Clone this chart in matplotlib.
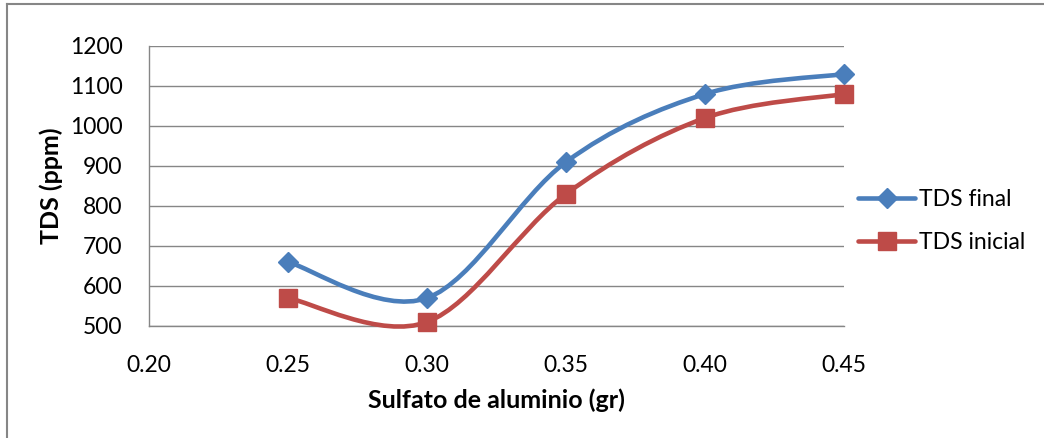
"""TDS final vs inicial against aluminium sulphate dose (Excel-style smoothed lines)."""
import matplotlib
matplotlib.use("Agg")
import matplotlib.pyplot as plt
import numpy as np
from matplotlib.lines import Line2D
from matplotlib.patches import PathPatch
from matplotlib.path import Path

plt.rcParams["font.family"] = ["Lato", "DejaVu Sans"]

dose = [0.25, 0.30, 0.35, 0.40, 0.45]
tds_final = [660, 570, 910, 1080, 1130]
tds_inicial = [570, 510, 830, 1020, 1080]
x_ticks = [0.20, 0.25, 0.30, 0.35, 0.40, 0.45]
y_ticks = [500, 600, 700, 800, 900, 1000, 1100, 1200]

BLUE = "#4A7EBB"
RED = "#BE4B48"
GRID = "#868686"
FS = 16.5
FS_LABEL = 18


def smooth_path(xs, ys):
    """Excel-like smoothed line: cubic Bezier segments, Catmull-Rom tangents."""
    P = np.column_stack([xs, ys]).astype(float)
    n = len(P)
    verts = [P[0]]
    codes = [Path.MOVETO]
    for i in range(n - 1):
        p0 = P[i - 1] if i > 0 else P[i]
        p3 = P[i + 2] if i + 2 < n else P[i + 1]
        c1 = P[i] + (P[i + 1] - p0) / 6
        c2 = P[i + 1] - (p3 - P[i]) / 6
        verts += [c1, c2, P[i + 1]]
        codes += [Path.CURVE4] * 3
    return Path(verts, codes)


fig = plt.figure(figsize=(10.44, 4.38), dpi=100)
ax = fig.add_axes([149 / 1044, 1 - 326 / 438, 695 / 1044, 280 / 438])

series = [
    (tds_final, BLUE, "D", 9.8, "TDS final"),
    (tds_inicial, RED, "s", 13.5, "TDS inicial"),
]
handles = []
for ys, col, mk, ms, lab in series:
    ax.add_patch(PathPatch(smooth_path(dose, ys), fill=False, edgecolor=col,
                           lw=3.3, capstyle="round", joinstyle="round",
                           clip_on=False, zorder=3))
    ax.plot(dose, ys, ls="none", marker=mk, ms=ms, color=col, mec=col,
            clip_on=False, zorder=4)
    handles.append(Line2D([], [], color=col, lw=3.3, marker=mk, ms=ms,
                          mec=col, solid_capstyle="round", label=lab))

ax.set_xlim(0.20, 0.45)
ax.set_ylim(500, 1200)
ax.set_xticks(x_ticks)
ax.set_xticklabels([f"{v:.2f}" for v in x_ticks])
ax.set_yticks(y_ticks)
ax.tick_params(length=0, labelsize=FS)
ax.tick_params(axis="y", pad=19)
ax.tick_params(axis="x", pad=21)
ax.grid(axis="y", color=GRID, lw=1.0)
ax.set_axisbelow(True)
for s in ("top", "right"):
    ax.spines[s].set_visible(False)
for s in ("left", "bottom"):
    ax.spines[s].set_color(GRID)
    ax.spines[s].set_linewidth(1.0)

ax.set_xlabel("Sulfato de aluminio (gr)", fontsize=FS_LABEL, fontweight="bold",
              labelpad=9)
ax.set_ylabel("TDS (ppm)", fontsize=FS_LABEL, fontweight="bold", labelpad=5)

fig.legend(handles=handles, loc="center left",
           bbox_to_anchor=(858 / 1044, 1 - 221 / 438), frameon=False,
           fontsize=FS, handlelength=2.5, handletextpad=0.15,
           labelspacing=1.0, borderpad=0, borderaxespad=0)

# chart area border (left and top edges visible in the crop)
fig.add_artist(Line2D([7 / 1044, 7 / 1044], [0, 1 - 4 / 438],
                      transform=fig.transFigure, color=GRID, lw=1.5))
fig.add_artist(Line2D([7 / 1044, 1], [1 - 4 / 438, 1 - 4 / 438],
                      transform=fig.transFigure, color=GRID, lw=1.5))

fig.savefig("out.png", dpi=100)
